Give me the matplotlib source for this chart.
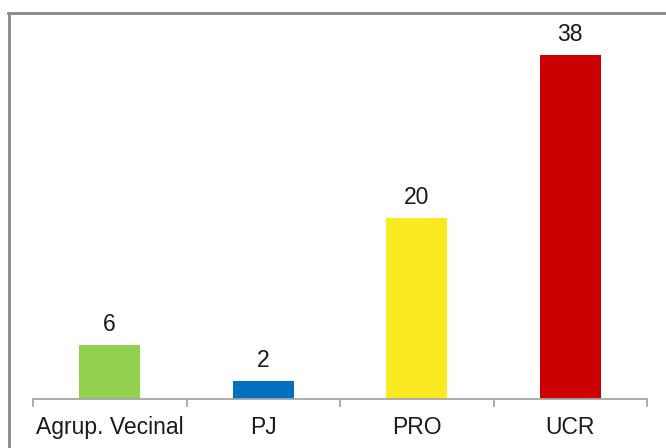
import matplotlib.pyplot as plt
from matplotlib.lines import Line2D

partidos = ['Agrup. Vecinal', 'PJ', 'PRO', 'UCR']
bancas = [6, 2, 20, 38]
colores = ['#92D050', '#0070C0', '#FCEA20', '#CC0000']

plt.rcParams['font.family'] = ['Liberation Sans', 'DejaVu Sans']

fig = plt.figure(figsize=(6.66, 4.48), dpi=100)
W, H = 666, 448
ax = fig.add_axes([33 / W, 1 - 399 / H, (647 - 33) / W, (399 - 37) / H])

x = list(range(len(partidos)))
ax.bar(x, bancas, width=0.4, color=colores)
for xi, v in zip(x, bancas):
    ax.text(xi, v + 1.0, str(v), ha='center', va='bottom', fontsize=16.5, color='#1a1a1a')

ax.set_xlim(-0.5, len(partidos) - 0.5)
ax.set_ylim(0, 40)
for s in ['top', 'right', 'left']:
    ax.spines[s].set_visible(False)
ax.spines['bottom'].set_color('#a6a6a6')
ax.spines['bottom'].set_linewidth(1.3)
ax.set_yticks([])
# ticks between categories, labels centered
ax.set_xticks([i - 0.5 for i in range(len(partidos) + 1)])
ax.set_xticklabels([])
ax.tick_params(axis='x', length=6, width=1.3, color='#a6a6a6')
ax.set_xticks(x, minor=True)
ax.set_xticklabels(partidos, minor=True, fontsize=16.5, color='#1a1a1a')
ax.tick_params(axis='x', which='minor', length=0, pad=12)

# marco gris del grafico
fig.add_artist(Line2D([8.5 / W, 8.5 / W], [0, 1 - 13 / H], color='#888888', lw=2))
fig.add_artist(Line2D([8 / W, 1], [1 - 13.5 / H, 1 - 13.5 / H], color='#888888', lw=2))

fig.savefig('out.png', dpi=100)
